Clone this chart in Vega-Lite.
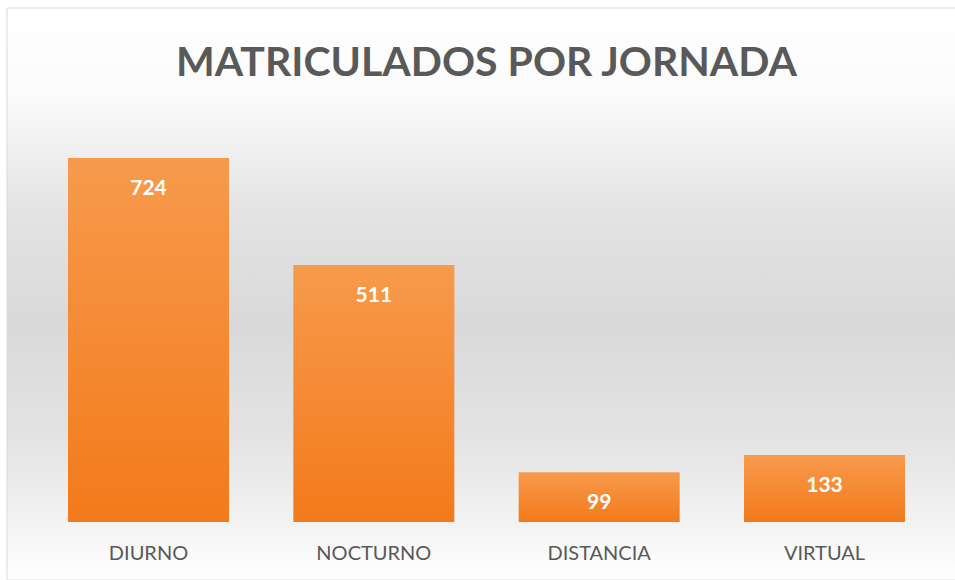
{
  "$schema": "https://vega.github.io/schema/vega-lite/v6.json",
  "autosize": "none",
  "width": 959,
  "height": 572,
  "padding": {"left": 7, "top": 8, "right": 0, "bottom": 0},
  "background": "#ffffff",
  "config": {
    "view": {"stroke": "#d9d9d9", "strokeWidth": 1},
    "font": "Lato"
  },
  "title": {
    "text": "MATRICULADOS POR JORNADA",
    "font": "Lato",
    "fontSize": 41,
    "fontWeight": "bold",
    "color": "#595959",
    "anchor": "middle",
    "baseline": "alphabetic",
    "offset": -68,
    "dy": 41
  },
  "data": {
    "values": [
      {"jornada": "DIURNO", "matriculados": 724},
      {"jornada": "NOCTURNO", "matriculados": 511},
      {"jornada": "DISTANCIA", "matriculados": 99},
      {"jornada": "VIRTUAL", "matriculados": 133}
    ]
  },
  "layer": [
    {
      "data": {"values": [{"bg": 1}]},
      "mark": {
        "type": "rect",
        "stroke": "#d9d9d9",
        "strokeWidth": 1,
        "color": {
          "gradient": "linear",
          "x1": 0, "y1": 0, "x2": 0, "y2": 1,
          "stops": [
            {"offset": 0, "color": "#ffffff"},
            {"offset": 0.15, "color": "#fbfbfb"},
            {"offset": 0.35, "color": "#e4e4e4"},
            {"offset": 0.55, "color": "#d9d9d9"},
            {"offset": 0.75, "color": "#e3e3e3"},
            {"offset": 0.9, "color": "#f3f3f3"},
            {"offset": 1, "color": "#ffffff"}
          ]
        }
      },
      "encoding": {}
    },
    {
      "mark": {
        "type": "bar",
        "color": {
          "gradient": "linear",
          "x1": 0, "y1": 0, "x2": 0, "y2": 1,
          "stops": [
            {"offset": 0, "color": "#f79a4d"},
            {"offset": 1, "color": "#f37a1a"}
          ]
        }
      },
      "encoding": {
        "x": {
          "field": "jornada",
          "type": "nominal",
          "sort": null,
          "scale": {"paddingInner": 0.2854, "paddingOuter": 0.2707},
          "axis": {
            "title": null,
            "orient": "bottom",
            "offset": -58,
            "zindex": 1,
            "domain": false,
            "ticks": false,
            "labelAngle": 0,
            "labelFont": "Lato",
            "labelFontSize": 20,
            "labelColor": "#595959",
            "labelPadding": 21
          }
        },
        "y": {
          "field": "matriculados",
          "type": "quantitative",
          "scale": {"domain": [-115.4, 1022.4], "nice": false, "zero": false},
          "axis": null
        },
        "y2": {"datum": 0}
      }
    },
    {
      "mark": {
        "type": "text",
        "color": "#ffffff",
        "font": "Lato",
        "fontSize": 21,
        "fontWeight": "bold",
        "baseline": "middle",
        "dy": 31
      },
      "encoding": {
        "x": {"field": "jornada", "type": "nominal", "sort": null},
        "y": {"field": "matriculados", "type": "quantitative"},
        "text": {"field": "matriculados", "type": "quantitative"}
      }
    }
  ]
}
